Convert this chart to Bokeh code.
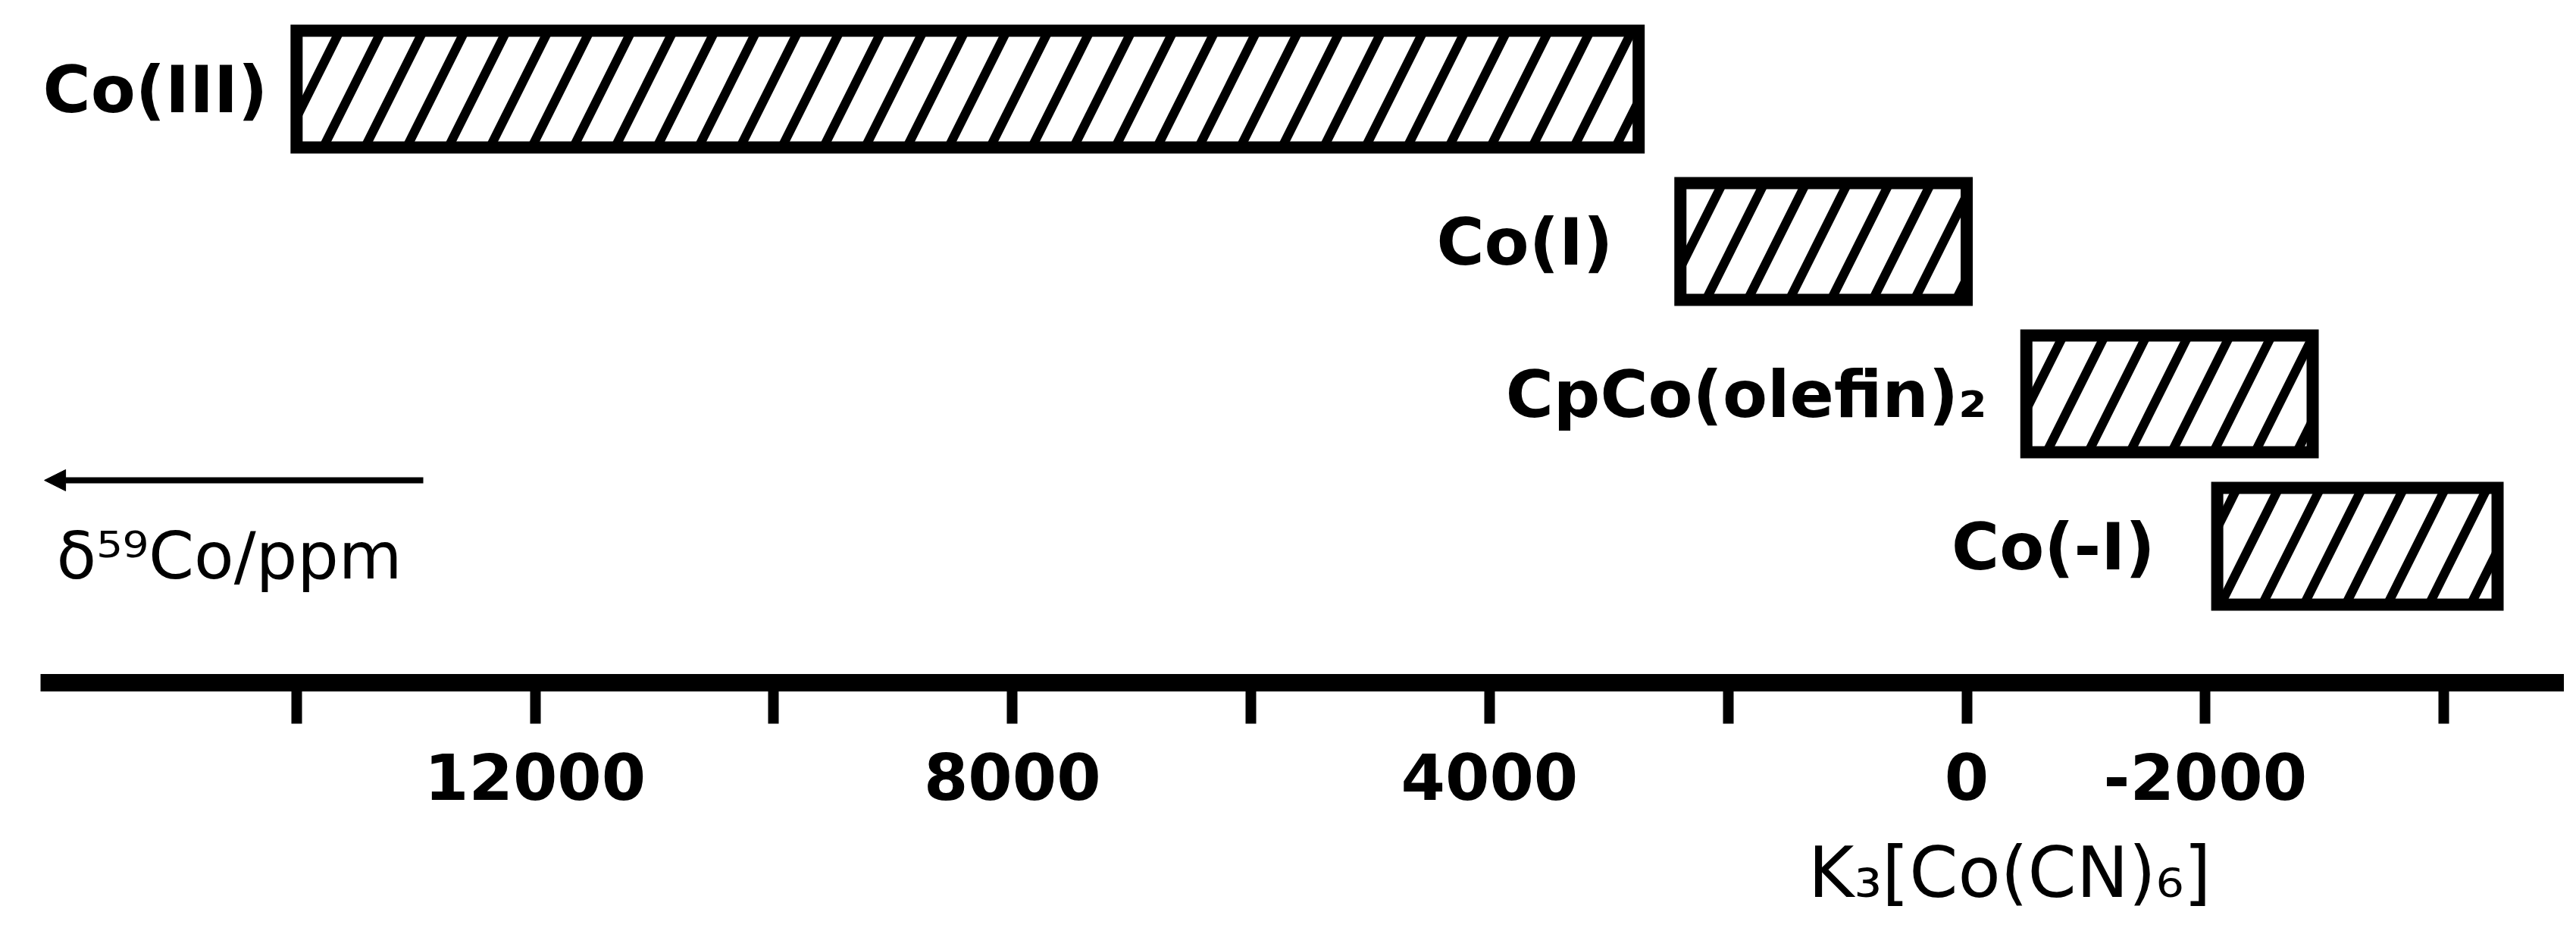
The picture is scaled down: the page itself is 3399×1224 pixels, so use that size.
from bokeh.plotting import figure
from bokeh.models import (Range1d, FixedTicker, LinearAxis, Label, Arrow,
                          NormalHead, ColumnDataSource, Grid)
from bokeh.core.properties import value
from bokeh.embed import file_html
from bokeh.resources import INLINE

# ---------------- data ----------------
complexes = ["Co(III)", "Co(I)", "CpCo(olefin)\u2082", "Co(-I)"]
shift_high = [14000, 2400, -500, -2100]      # ppm, left end of each range
shift_low = [2750, 0, -2900, -4450]          # ppm, right end of each range
tick_values = [14000, 12000, 10000, 8000, 6000, 4000, 2000, 0, -2000, -4000]
tick_labels = ["", "12000", "", "8000", "", "4000", "", "0", "-2000", ""]
axis_title = "\u03b4\u2075\u2079Co/ppm"
reference_label = "K\u2083[Co(CN)\u2086]"
reference_label_pos = -360

# ---------------- layout ----------------
W, H = 3383, 1208
TOP = 8
BOTTOM = 308
X_LEFT, X_RIGHT = 16483, -5009
Y_BOTTOM, Y_TOP = 3.8955, -0.5423
BAR_H = 0.766
label_gap_px = [-38, -89, -52, -82]
rows = list(range(len(complexes)))

p = figure(width=W, height=H,
           x_range=Range1d(X_LEFT, X_RIGHT), y_range=Range1d(Y_BOTTOM, Y_TOP),
           output_backend="svg", toolbar_location=None,
           x_axis_location=None, y_axis_location=None,
           min_border_left=0, min_border_right=0, min_border_top=TOP,
           min_border_bottom=BOTTOM)
p.outline_line_color = None
p.background_fill_color = "white"
p.border_fill_color = "white"
for r in list(p.center):
    if isinstance(r, Grid):
        r.visible = False

ax = LinearAxis(ticker=FixedTicker(ticks=tick_values),
                major_label_overrides={v: t for v, t in zip(tick_values, tick_labels)},
                bounds=(-5009, 16146))
ax.axis_line_width = 23
ax.axis_line_color = "black"
ax.major_tick_line_width = 14
ax.major_tick_line_color = "black"
ax.major_tick_out = 54
ax.major_tick_in = 0
ax.minor_tick_line_color = None
ax.major_label_text_font = "DejaVu Sans"
ax.major_label_text_font_style = "bold"
ax.major_label_text_font_size = "84px"
ax.major_label_text_color = "black"
ax.major_label_standoff = 38
p.add_layout(ax, "below")

ax2 = LinearAxis(ticker=FixedTicker(ticks=[reference_label_pos]),
                 major_label_overrides={reference_label_pos: reference_label})
ax2.axis_line_color = None
ax2.major_tick_line_color = None
ax2.major_tick_out = 0
ax2.major_tick_in = 0
ax2.minor_tick_line_color = None
ax2.major_label_text_font = "DejaVu Sans"
ax2.major_label_text_font_size = "92px"
ax2.major_label_text_color = "black"
ax2.major_label_standoff = 40
p.add_layout(ax2, "below")

src = ColumnDataSource(dict(name=complexes, high=shift_high, low=shift_low,
                            row=rows, gap=label_gap_px))

p.hbar(y="row", left="high", right="low", height=BAR_H, source=src,
       fill_color="white", line_color="black", line_width=16, line_join="miter",
       hatch_pattern="/", hatch_color="black", hatch_weight=12, hatch_scale=110)

p.text(x="high", y="row", text="name", source=src, x_offset="gap",
       text_align="right", text_baseline="middle",
       text_font=value("DejaVu Sans"), text_font_style="bold",
       text_font_size="86px", text_color="black")

p.add_layout(Label(x=16013, y=3.06, text=axis_title,
                   text_font="DejaVu Sans", text_font_size="86px",
                   text_align="left", text_baseline="middle", text_color="black"))

p.add_layout(Arrow(x_start=12938, y_start=2.567, x_end=16114, y_end=2.567,
                   line_width=8, line_color="black",
                   end=NormalHead(size=28, fill_color="black", line_color="black",
                                  line_width=1)))

open("out.html", "w").write(file_html(p, INLINE))
